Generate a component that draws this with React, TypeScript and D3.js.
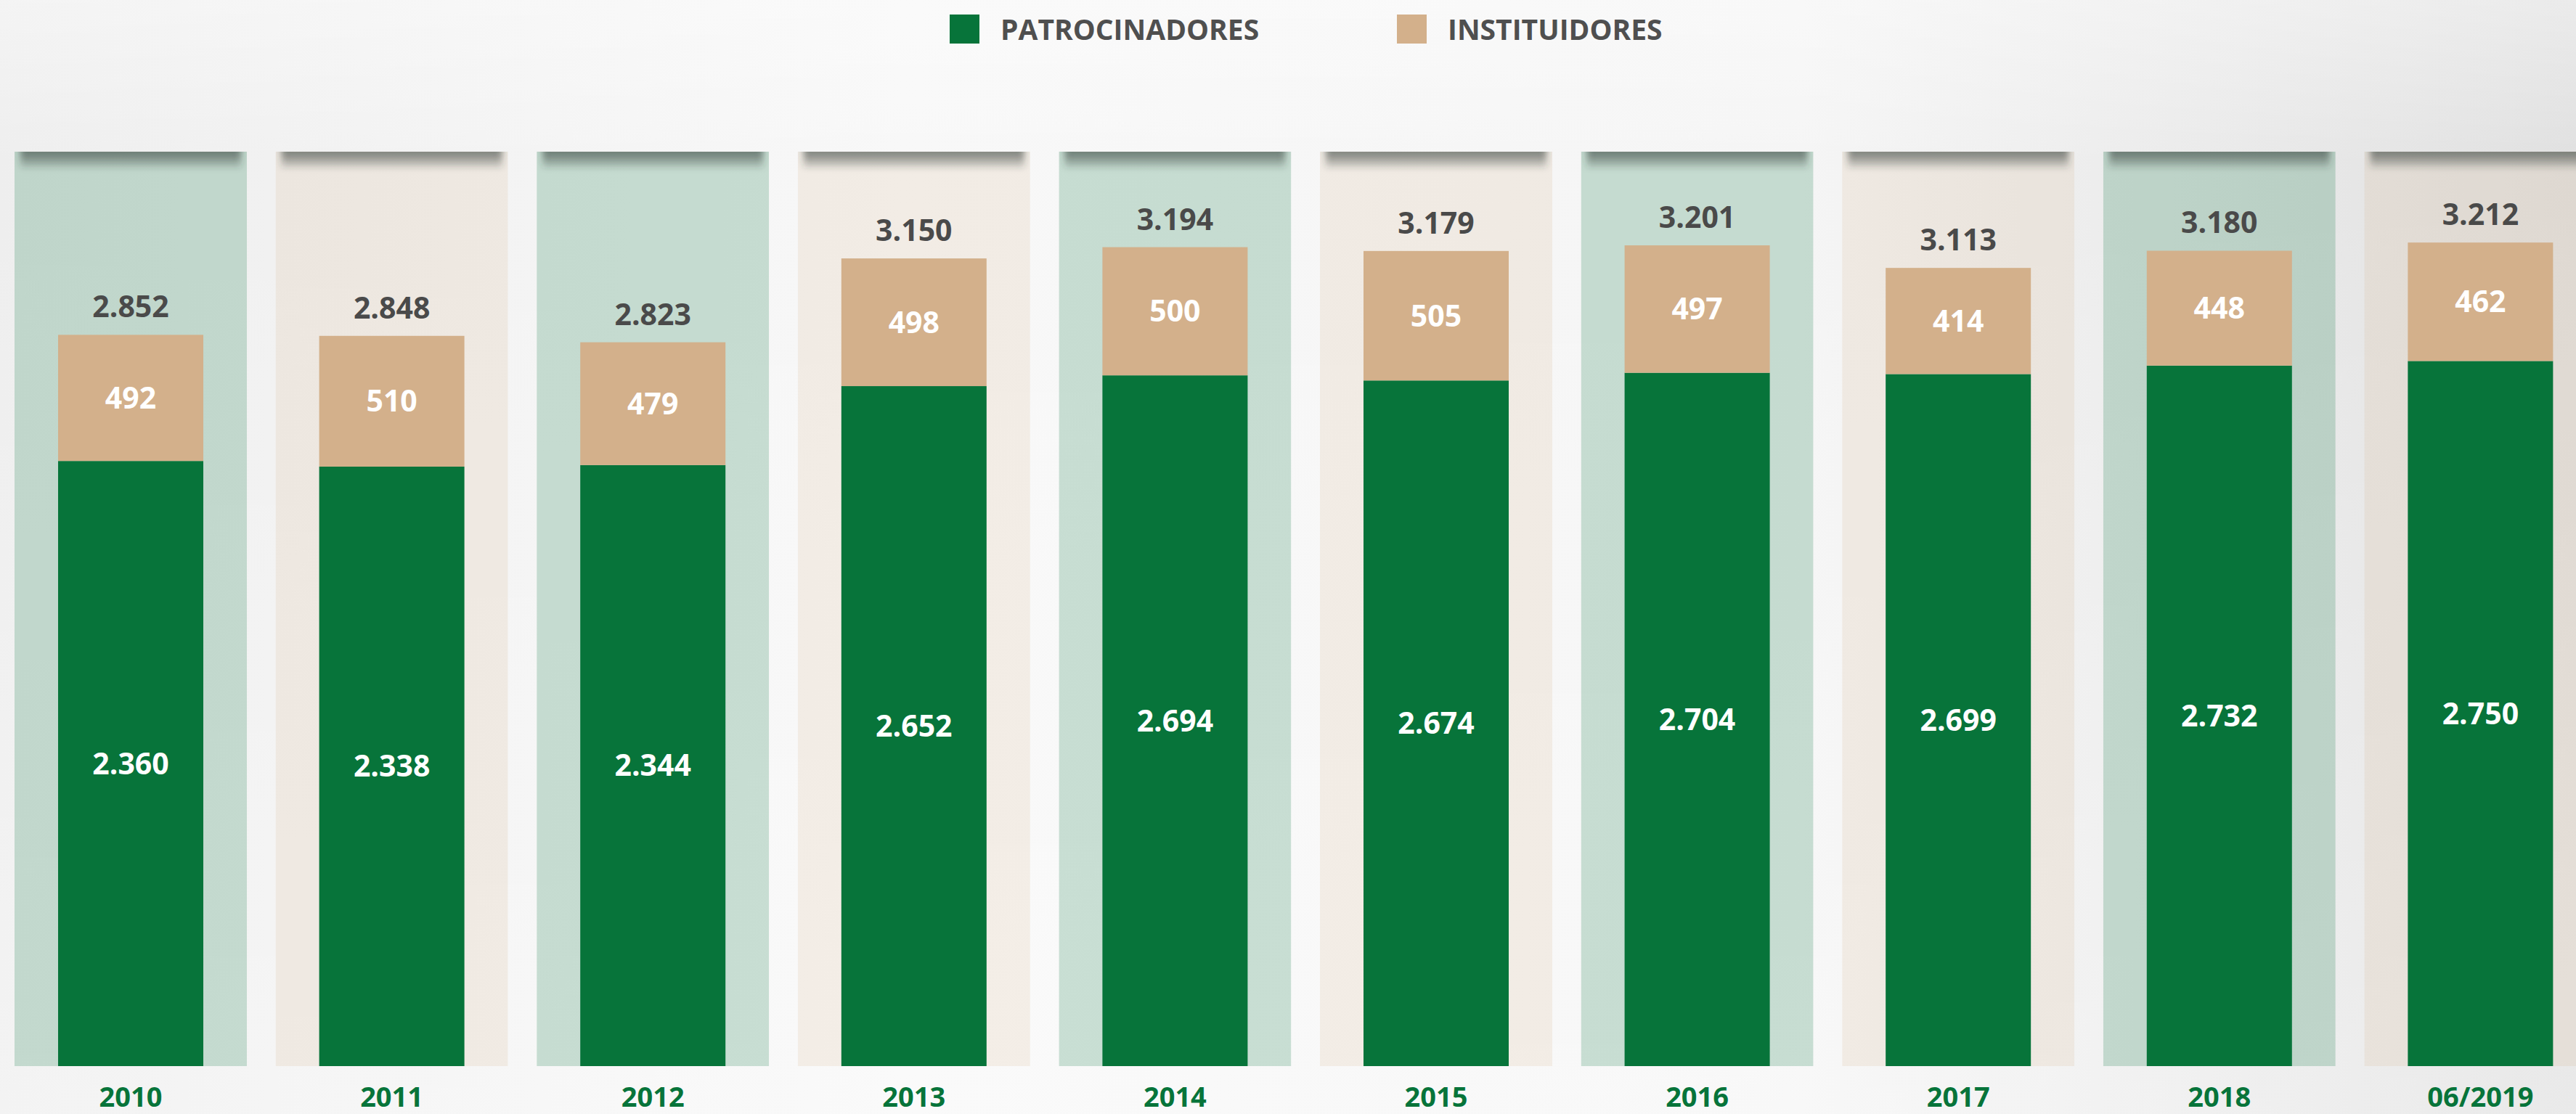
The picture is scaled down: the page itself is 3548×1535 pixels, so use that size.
import React from 'react';
import * as d3 from 'd3';

// Participantes por ano
const categories = ['2010', '2011', '2012', '2013', '2014', '2015', '2016', '2017', '2018', '06/2019'];
const patrocinadores = [2360, 2338, 2344, 2652, 2694, 2674, 2704, 2699, 2732, 2750];
const instituidores = [492, 510, 479, 498, 500, 505, 497, 414, 448, 462];
const seriesNames = ['PATROCINADORES', 'INSTITUIDORES'];

const W = 3548;
const H = 1535;
const GREEN = '#07743A';
const TAN = '#D3B08B';
const FONT = '"Open Sans", "Noto Sans", sans-serif';

const fmt = d3.formatLocale({ decimal: ',', thousands: '.', grouping: [3], currency: ['R$', ''] }).format(',d');

export default function App() {
  const rows = categories.map((c, i) => ({ cat: c, pat: patrocinadores[i], inst: instituidores[i] }));
  const stacked = d3.stack<any>().keys(['pat', 'inst'])(rows);

  // panel band (background columns) and inner bar band
  const x = d3.scaleBand<string>().domain(categories).range([20, 3576.4]).paddingInner(0.11).paddingOuter(0);
  const barW = 200;
  const y = d3.scaleLinear().domain([0, 3600]).range([1469, 197.1]);
  const panelTop = 209;

  const color = d3.scaleOrdinal<string, string>().domain(['pat', 'inst']).range([GREEN, TAN]);
  const legendColor = d3.scaleOrdinal<string, string>().domain(seriesNames).range([GREEN, TAN]);
  const legendX = [1308, 1924];

  return (
    <svg width={W} height={H} style={{ position: 'absolute', left: 0, top: 0, display: 'block' }}>
      <defs>
        <linearGradient id="bgH" x1="0" x2="1" y1="0" y2="0">
          <stop offset="0%" stopColor="#EEEEEE" />
          <stop offset="35%" stopColor="#F8F8F8" />
          <stop offset="70%" stopColor="#F5F5F5" />
          <stop offset="100%" stopColor="#E0E0E0" />
        </linearGradient>
        <linearGradient id="bgV" x1="0" x2="0" y1="0" y2="1">
          <stop offset="0%" stopColor="#FFFFFF" stopOpacity={0.35} />
          <stop offset="15%" stopColor="#FFFFFF" stopOpacity={0} />
          <stop offset="100%" stopColor="#FFFFFF" stopOpacity={0.3} />
        </linearGradient>
        <linearGradient id="shade" x1="0" x2="0" y1="0" y2="1">
          <stop offset="0%" stopColor="#2c3630" stopOpacity={0.62} />
          <stop offset="45%" stopColor="#2c3630" stopOpacity={0.48} />
          <stop offset="100%" stopColor="#2c3630" stopOpacity={0} />
        </linearGradient>
        <filter id="blur" x="-20%" y="-50%" width="140%" height="200%">
          <feGaussianBlur stdDeviation="5 3" />
        </filter>
        {categories.map((c, i) => (
          <clipPath id={`clip${i}`} key={c}>
            <rect x={x(c)} y={panelTop} width={x.bandwidth()} height={1469 - panelTop} />
          </clipPath>
        ))}
      </defs>

      <rect x={0} y={0} width={W} height={H} fill="url(#bgH)" />
      <rect x={0} y={0} width={W} height={H} fill="url(#bgV)" />

      {/* legend */}
      {seriesNames.map((s, i) => (
        <g key={s}>
          <rect x={legendX[i]} y={20} width={41} height={40} fill={legendColor(s)} />
          <text x={legendX[i] + 70} y={55} fontFamily={FONT} fontWeight={700} fontSize={39} fill="#4F4F4F">
            {s}
          </text>
        </g>
      ))}

      {/* background columns */}
      {categories.map((c, i) => (
        <g key={c} clipPath={`url(#clip${i})`}>
          <rect
            x={x(c)}
            y={panelTop}
            width={x.bandwidth()}
            height={1469 - panelTop}
            fill={i % 2 === 0 ? GREEN : TAN}
            fillOpacity={i % 2 === 0 ? 0.2 : 0.17}
          />
          <rect
            x={(x(c) as number) + 8}
            y={panelTop - 10}
            width={x.bandwidth() - 16}
            height={36}
            fill="url(#shade)"
            filter="url(#blur)"
          />
        </g>
      ))}

      {/* stacked bars */}
      {stacked.map((layer) =>
        layer.map((d, i) => {
          const c = categories[i];
          const bx = (x(c) as number) + (x.bandwidth() - barW) / 2;
          return (
            <rect
              key={layer.key + c}
              x={bx}
              y={y(d[1])}
              width={barW}
              height={y(d[0]) - y(d[1])}
              fill={color(layer.key)}
            />
          );
        })
      )}

      {/* value labels */}
      {stacked.map((layer) =>
        layer.map((d, i) => {
          const c = categories[i];
          const cx = (x(c) as number) + x.bandwidth() / 2;
          const mid = (y(d[0]) + y(d[1])) / 2;
          return (
            <text
              key={'l' + layer.key + c}
              x={cx}
              y={mid + 14.5}
              textAnchor="middle"
              fontFamily={FONT}
              fontWeight={700}
              fontSize={41}
              fill="#FFFFFF"
            >
              {fmt(d[1] - d[0])}
            </text>
          );
        })
      )}

      {/* totals */}
      {rows.map((r) => (
        <text
          key={'t' + r.cat}
          x={(x(r.cat) as number) + x.bandwidth() / 2}
          y={y(r.pat + r.inst) - 24}
          textAnchor="middle"
          fontFamily={FONT}
          fontWeight={700}
          fontSize={41}
          fill="#4A4A4A"
        >
          {fmt(r.pat + r.inst)}
        </text>
      ))}

      {/* category labels */}
      {categories.map((c) => (
        <text
          key={'c' + c}
          x={(x(c) as number) + x.bandwidth() / 2}
          y={1525}
          textAnchor="middle"
          fontFamily={FONT}
          fontWeight={700}
          fontSize={38}
          fill={GREEN}
        >
          {c}
        </text>
      ))}
    </svg>
  );
}
